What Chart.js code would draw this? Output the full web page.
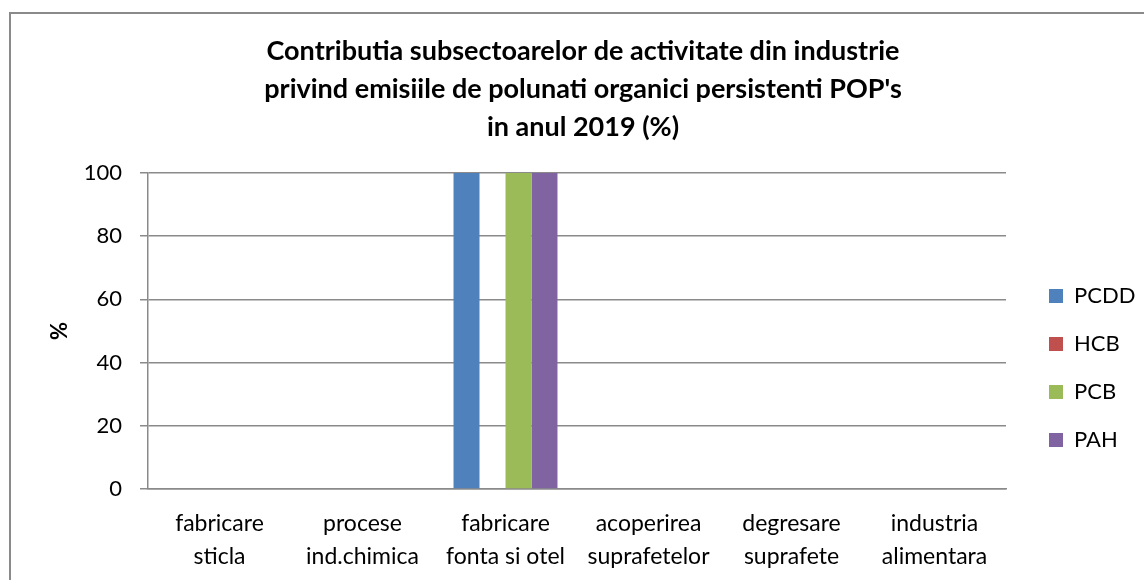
<!DOCTYPE html>
<html>
<head>
<meta charset="utf-8">
<script src="https://cdn.jsdelivr.net/npm/chart.js@4"></script>
<style>
  body { margin: 0; background: #fff; }
  #wrap { width: 1144px; height: 580px; position: relative; }
</style>
</head>
<body>
<div id="wrap"><canvas id="grafic"></canvas></div>
<script>
const categorii = [
    ['fabricare', 'sticla'],
    ['procese', 'ind.chimica'],
    ['fabricare', 'fonta si otel'],
    ['acoperirea', 'suprafetelor'],
    ['degresare', 'suprafete'],
    ['industria', 'alimentara']
];
const valPCDD = [0, 0, 100, 0, 0, 0];
const valHCB = [0, 0, 0, 0, 0, 0];
const valPCB = [0, 0, 100, 0, 0, 0];
const valPAH = [0, 0, 100, 0, 0, 0];
const titlu = [
    'Contributia subsectoarelor de activitate din industrie',
    "privind emisiile de polunati organici persistenti POP's",
    'in anul 2019 (%)'
];

const font = 'Lato';
const gri = '#8a8a8a';

// chenarul exterior, ca in Excel
const chenar = {
    id: 'chenar',
    beforeDraw(chart) {
        const c = chart.ctx;
        c.save();
        c.strokeStyle = gri;
        c.lineWidth = 2;
        c.strokeRect(10, 13, 1400, 800);
        c.restore();
    }
};

// latime fixa pentru legenda si mutarea ei
const legendaFix = {
    id: 'legendaFix',
    beforeLayout(chart) {
        const lg = chart.legend;
        if (lg && !lg._fix) {
            const fit = lg.fit.bind(lg);
            lg.fit = function () { fit(); this.width = 138; };
            lg._fix = true;
        }
    },
    afterLayout(chart) {
        const lg = chart.legend;
        lg.left += 17;
        lg.top += 78;
        lg.bottom += 78;
    }
};

const ds = (label, data, color) => ({
    label: label, data: data, backgroundColor: color, borderWidth: 0,
    categoryPercentage: 0.727, barPercentage: 1
});

new Chart(document.getElementById('grafic'), {
    type: 'bar',
    data: {
        labels: categorii,
        datasets: [
            ds('PCDD', valPCDD, '#4F81BD'),
            ds('HCB', valHCB, '#C0504D'),
            ds('PCB', valPCB, '#9BBB59'),
            ds('PAH', valPAH, '#8064A2')
        ]
    },
    options: {
        responsive: true,
        maintainAspectRatio: false,
        animation: false,
        layout: { padding: { left: 22, right: 0, top: 0, bottom: 0 } },
        plugins: {
            title: {
                display: true,
                text: titlu,
                color: '#000',
                font: { family: font, size: 27, weight: 'bold', lineHeight: 38 / 27 },
                padding: { top: 32, bottom: 27 }
            },
            legend: {
                position: 'right',
                labels: {
                    color: '#000',
                    font: { family: font, size: 22 },
                    boxWidth: 14,
                    boxHeight: 14,
                    padding: 26
                }
            },
            tooltip: { enabled: false }
        },
        scales: {
            x: {
                grid: { display: false },
                border: { color: gri, width: 1.5 },
                ticks: {
                    color: '#000',
                    font: { family: font, size: 23, lineHeight: 33 / 23 },
                    padding: 10,
                    maxRotation: 0,
                    autoSkip: false
                },
                afterFit(s) { s.height = 91; }
            },
            y: {
                min: 0,
                max: 100,
                ticks: {
                    stepSize: 20,
                    color: '#000',
                    font: { family: font, size: 22 },
                    padding: 18
                },
                grid: { color: gri, lineWidth: 1.5, tickLength: 8 },
                border: { color: gri, width: 1.5 },
                title: {
                    display: true,
                    text: '%',
                    color: '#000',
                    font: { family: font, size: 22, weight: 'bold' },
                    padding: { top: 25, bottom: 0 }
                },
                afterFit(s) { s.width = 126; }
            }
        }
    },
    plugins: [chenar, legendaFix]
});
</script>
</body>
</html>
